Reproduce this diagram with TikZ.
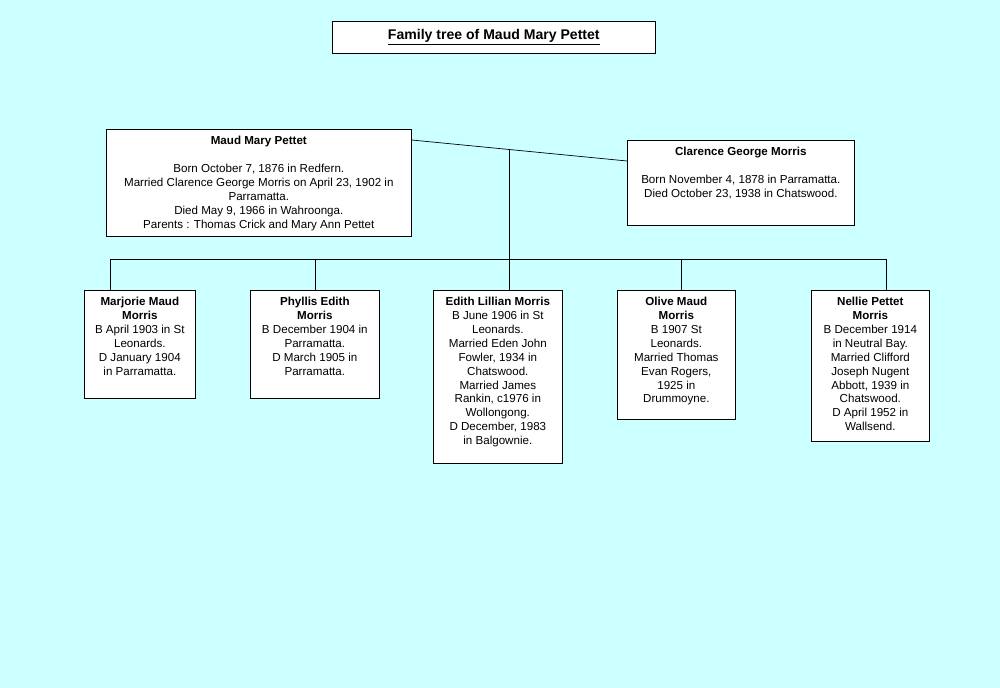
\documentclass[tikz,border=0pt]{standalone}
\usepackage{fontspec}
\setmainfont{Liberation Sans}
\usetikzlibrary{calc}
\definecolor{bgcyan}{RGB}{204,255,255}

\tikzset{
  person/.style = {draw, fill=white, anchor=north west, inner sep=0pt,
                   font=\fontsize{6.6}{7.9}\selectfont},
}
% box of given size with its text at the top
\newcommand{\famcard}[3]{\begin{minipage}[t][#2][t]{#1}\centering\vspace{#3}}

\begin{document}
\begin{tikzpicture}[x=0.02cm, y=-0.02cm]
\fill[bgcyan] (0,0) rectangle (1000,688);
\useasboundingbox (0,0) rectangle (1000,688);

% titre
\node [draw, fill=white, minimum width=6.46cm, minimum height=0.64cm,
       anchor=north west, font=\fontsize{8}{9}\selectfont\bfseries]
      at (332,21) (title) {\underline{Family tree of Maud Mary Pettet}};

% parents
\node [person] at (106,129) (maud) {\famcard{6.1cm}{2.14cm}{4pt}
    \textbf{Maud Mary Pettet}\\[7.9pt]
    Born October 7, 1876 in Redfern.\\
    Married Clarence George Morris on April 23, 1902 in\\ Parramatta.\\
    Died May 9, 1966 in Wahroonga.\\
    Parents : Thomas Crick and Mary Ann Pettet\end{minipage}};
\node [person] at (627,140) (clar) {\famcard{4.54cm}{1.7cm}{4pt}
    \textbf{Clarence George Morris}\\[7.9pt]
    Born November 4, 1878 in Parramatta.\\
    Died October 23, 1938 in Chatswood.\end{minipage}};

% enfants
\node [person] at (84,290) (marj) {\famcard{2.22cm}{2.16cm}{4pt}
    \textbf{Marjorie Maud}\\ \textbf{Morris}\\
    B April 1903 in St\\ Leonards.\\ D January 1904\\ in Parramatta.\end{minipage}};
\node [person] at (250,290) (phyl) {\famcard{2.58cm}{2.16cm}{4pt}
    \textbf{Phyllis Edith}\\ \textbf{Morris}\\
    B December 1904 in\\ Parramatta.\\ D March 1905 in\\ Parramatta.\end{minipage}};
\node [person] at (433,290) (edit) {\famcard{2.58cm}{3.46cm}{4pt}
    \textbf{Edith Lillian Morris}\\
    B June 1906 in St\\ Leonards.\\ Married Eden John\\ Fowler, 1934 in\\ Chatswood.\\
    Married James\\ Rankin, c1976 in\\ Wollongong.\\ D December, 1983\\ in Balgownie.\end{minipage}};
\node [person] at (617,290) (oliv) {\famcard{2.36cm}{2.58cm}{4pt}
    \textbf{Olive Maud}\\ \textbf{Morris}\\
    B 1907 St\\ Leonards.\\ Married Thomas\\ Evan Rogers,\\ 1925 in\\ Drummoyne.\end{minipage}};
\node [person] at (811,290) (nell) {\famcard{2.36cm}{3.02cm}{4pt}
    \textbf{Nellie Pettet}\\ \textbf{Morris}\\
    B December 1914\\ in Neutral Bay.\\ Married Clifford\\ Joseph Nugent\\
    Abbott, 1939 in\\ Chatswood.\\ D April 1952 in\\ Wallsend.\end{minipage}};

% liens
\coordinate (wed) at ($(maud.north east)+(0,11)$);
\coordinate (wife) at ($(clar.north west)+(0,21)$);
\draw (wed) -- (wife);
\coordinate (mid) at (509,150);
\coordinate (bar) at (509,259);
\draw (mid) -- (bar);
\draw (110,259) -- (886,259);
\foreach \kid/\xx in {marj/110, phyl/315, edit/509, oliv/681, nell/886}
  \draw (\xx,259) -- (\xx,290);
\end{tikzpicture}
\end{document}
